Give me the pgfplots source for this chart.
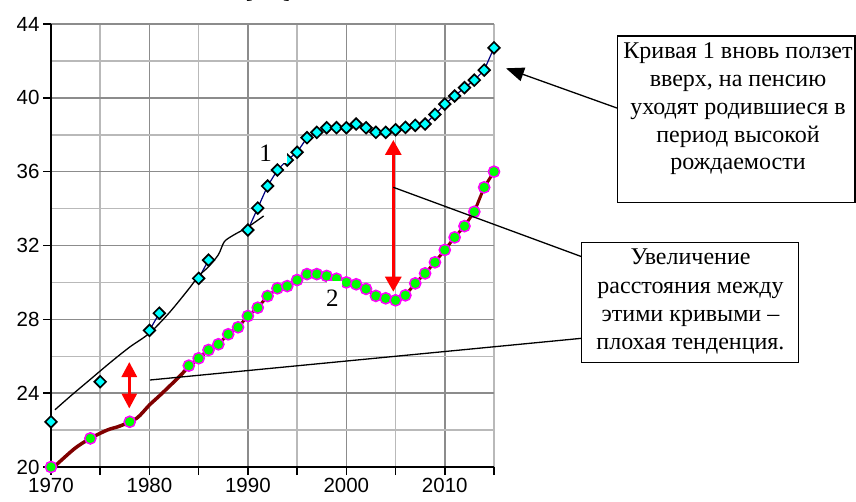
\documentclass[border=0pt]{standalone}
\usepackage{fontspec}
\setmainfont{Liberation Serif}
\newfontfamily\timesfont{Liberation Serif}
\newfontfamily\arialfont{Liberation Sans}
\usepackage{pgfplots}
\pgfplotsset{compat=1.18}
\usetikzlibrary{arrows.meta}
\definecolor{majgrid}{RGB}{140,140,140}
\definecolor{mingrid}{RGB}{185,185,185}
\definecolor{cyanm}{RGB}{0,255,255}
\definecolor{navyl}{RGB}{0,0,128}
\definecolor{greenm}{RGB}{0,255,0}
\definecolor{magm}{RGB}{255,0,255}
\definecolor{maroonl}{RGB}{128,0,0}
\newcommand{\boxfont}{\timesfont\fontsize{24}{28}\selectfont}
\begin{document}
\begin{tikzpicture}
\begin{axis}[
  scale only axis, width=443pt, height=443pt,
  xmin=1970, xmax=2015, ymin=20, ymax=44,
  axis lines*=left,
  axis line style={line width=2.2pt, black},
  xtick={1970,1980,...,2010},
  minor xtick={1975,1985,...,2015},
  ytick={20,24,...,44},
  minor ytick={22,26,...,42},
  grid=both,
  major grid style={majgrid, line width=1.5pt},
  minor grid style={mingrid, line width=1.5pt},
  tick align=outside,
  major tick length=8pt, minor tick length=8pt,
  tick style={black, line width=1.5pt},
  minor y tick style={draw=none},
  tick label style={font=\arialfont\fontsize{20.5}{24}\selectfont},
  /pgf/number format/assume math mode=true,
  /pgf/number format/1000 sep={},
  clip=false,
  unbounded coords=jump,
]
% curve 1 (cyan diamonds)
\addplot[navyl, line width=1.2pt, mark=square*, mark size=4.1pt,
  mark options={rotate=45, fill=cyanm, draw=black, line width=1.7pt, solid}] coordinates {
(1970,22.45) (1972,nan) (1975,24.62) (1977,nan) (1980,27.40) (1981,28.33) (1983,nan)
(1985,30.22) (1986,31.21) (1988,nan)
(1990,32.84) (1991,34.03) (1992,35.22) (1993,36.09) (1994,36.63) (1995,37.05)
(1996,37.84) (1997,38.13) (1998,38.38) (1999,38.38) (2000,38.38) (2001,38.58)
(2002,38.38) (2003,38.13) (2004,38.13) (2005,38.27) (2006,38.40) (2007,38.51)
(2008,38.58) (2009,39.10) (2010,39.66) (2011,40.10) (2012,40.55) (2013,40.96)
(2014,41.50) (2015,42.71)
};
% curve 2 early markers
\addplot[only marks, mark=*, mark size=5.6pt,
  mark options={fill=greenm, draw=magm, line width=1.5pt}] coordinates {
(1970,20.0) (1974,21.55) (1978,22.45)
};
% curve 2 main
\addplot[maroonl, line width=3pt, mark=*, mark size=5.6pt,
  mark options={fill=greenm, draw=magm, line width=1.5pt, solid}] coordinates {
(1984,25.49) (1985,25.89) (1986,26.34) (1987,26.65) (1988,27.19) (1989,27.57)
(1990,28.18) (1991,28.63) (1992,29.26) (1993,29.68) (1994,29.80) (1995,30.13)
(1996,30.45) (1997,30.45) (1998,30.35) (1999,30.20) (2000,30.00) (2001,29.90)
(2002,29.65) (2003,29.27) (2004,29.14) (2005,29.03) (2006,29.30) (2007,29.95)
(2008,30.49) (2009,31.09) (2010,31.76) (2011,32.44) (2012,33.05) (2013,33.83)
(2014,35.15) (2015,36.00)
};
% maroon trend 1970-1986
\addplot[maroonl, line width=3.5pt, smooth] coordinates {
(1970.2,19.95) (1972.4,21.0) (1974,21.55) (1975.7,22.0) (1977,22.22) (1978.7,22.64)
(1980,23.36) (1981.1,23.9) (1983.1,24.93) (1984,25.45) (1985,25.89) (1986,26.34)
};
% black trend 1970-1991
\addplot[black, line width=1.3pt, smooth] coordinates {
(1970.4,23.1) (1972,23.85) (1974,24.75) (1976,25.65) (1978,26.5) (1980,27.25)
(1982,28.35) (1984,29.65) (1985,30.35) (1986,30.85) (1987,31.5) (1987.6,32.2)
(1988.5,32.55) (1990,33.0) (1991.6,33.6)
};
\end{axis}
\begin{scope}[shift={(current axis.south west)}, xshift=-51pt, yshift=467pt, x=1pt, y=-1pt]
  % curve labels
  \fill[white] (252,136) rectangle (287,163);
  \node[anchor=base, font=\timesfont\fontsize{25}{30}\selectfont, inner sep=0pt] at (265.5,162) {1};
  \fill[white] (326.5,281.5) rectangle (342,312);
  \node[anchor=base, font=\timesfont\fontsize{25}{30}\selectfont, inner sep=0pt] at (332.3,306.7) {2};
  % red arrows
  \draw[red, line width=3pt, {Triangle[length=15pt,width=16pt]}-{Triangle[length=15pt,width=16pt]}]
    (393.3,140) -- (393.3,291.7);
  \draw[red, line width=3pt, {Triangle[length=15pt,width=15pt]}-{Triangle[length=15pt,width=15pt]}]
    (129.3,362) -- (129.3,408.5);
  % black pointer lines
  \draw[black, line width=1.3pt] (150,380) -- (581.7,338.3);
  \draw[black, line width=1.3pt] (393.3,187.3) -- (581.7,256.7);
  \draw[black, line width=1.3pt, -{Triangle[length=18pt,width=14pt]}] (617.7,108.3) -- (506,68.3);
  % box 1
  \draw[line width=1.5pt, fill=white] (617.7,36) rectangle (855,202.3);
  \node[anchor=base, inner sep=0pt, font=\boxfont] at (738,59) {Кривая 1 вновь ползет};
  \node[anchor=base, inner sep=0pt, font=\boxfont] at (738,87) {вверх, на пенсию};
  \node[anchor=base, inner sep=0pt, font=\boxfont] at (738,115) {уходят родившиеся в};
  \node[anchor=base, inner sep=0pt, font=\boxfont] at (738,143) {период высокой};
  \node[anchor=base, inner sep=0pt, font=\boxfont] at (738,170) {рождаемости};
  % box 2
  \draw[line width=1.5pt, fill=white] (581.7,242.3) rectangle (798.3,362.3);
  \node[anchor=base, inner sep=0pt, font=\boxfont] at (690.5,265) {Увеличение};
  \node[anchor=base, inner sep=0pt, font=\boxfont] at (690.5,293) {расстояния между};
  \node[anchor=base, inner sep=0pt, font=\boxfont] at (690.5,321) {этими кривыми –};
  \node[anchor=base, inner sep=0pt, font=\boxfont] at (690.5,349) {плохая тенденция.};
  % cut-off text at top
  \node[anchor=base, inner sep=0pt, font=\timesfont\fontsize{22}{26}\selectfont] at (268,-1) {[лет]};
\end{scope}
\pgfresetboundingbox
\path[use as bounding box, shift={(current axis.south west)}] (-51pt,-34pt) rectangle (805pt,467pt);
\end{tikzpicture}
\end{document}
